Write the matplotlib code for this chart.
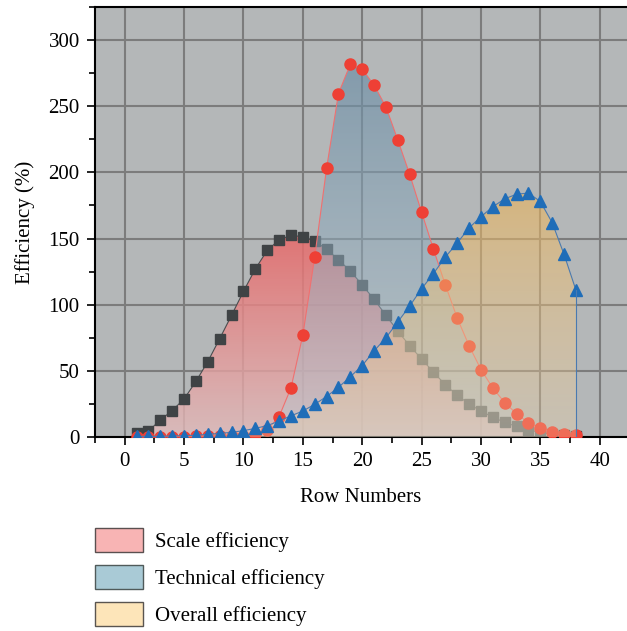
import matplotlib.pyplot as plt
import numpy as np
from matplotlib.patches import Patch
from matplotlib.ticker import MultipleLocator

plt.rcParams['font.family'] = ['Liberation Serif', 'DejaVu Serif']

rows = np.arange(1, 39)

# grey squares, red-filled area
scale_eff = [2.8, 4.5, 12.8, 20, 28.7, 42, 57, 74.3, 92, 110, 127, 141, 149, 152.4,
             151.4, 148, 142, 134, 125.5, 115, 104, 92, 80, 69, 59, 49, 39.5, 31.5,
             25, 19.6, 15, 11, 8, 5.5, 3.3, 2, 1.5, 1]
# red circles, blue-filled area
technical_eff = [0.2, 0.2, 0.2, 0.3, 0.3, 0.4, 0.5, 0.6, 0.8, 1, 2, 5.3, 15.4, 37,
                 77, 136, 203, 259.5, 281.7, 278, 266, 249.5, 224.5, 198.5, 170, 142,
                 115, 90, 69, 51, 37, 26, 17.6, 10.6, 7, 4, 2.3, 1.5]
# blue triangles, yellow-filled area
overall_eff = [0.5, 0.5, 0.5, 0.8, 1, 1.3, 2, 2.7, 3.5, 4.8, 6.5, 8.6, 12, 16, 19.6,
               24.7, 30.6, 37.5, 45.5, 54, 65, 75, 87, 99, 112, 123.5, 136, 146.6,
               158, 166.5, 174, 180, 183.5, 184.4, 178, 162, 138, 111]

legend_labels = ['Scale efficiency', 'Technical efficiency', 'Overall efficiency']


def grad_fill(ax, x, y, c_top, c_bot, a_top, a_bot, z):
    x = np.asarray(x, dtype=float)
    y = np.asarray(y, dtype=float)
    poly = ax.fill_between(x, y, 0, facecolor='none', edgecolor='none')
    n = 256
    t = np.linspace(0, 1, n)[:, None]
    rgb = np.array(c_bot) / 255 * (1 - t) + np.array(c_top) / 255 * t
    img = np.zeros((n, 1, 4))
    img[:, 0, :3] = rgb
    img[:, 0, 3] = a_bot * (1 - t[:, 0]) + a_top * t[:, 0]
    im = ax.imshow(img, extent=[x.min(), x.max(), 0, y.max()], origin='lower',
                   aspect='auto', zorder=z, interpolation='bilinear')
    im.set_clip_path(poly.get_paths()[0], transform=ax.transData)


fig = plt.figure(figsize=(6.27, 6.31), dpi=100)
ax = fig.add_axes([95 / 627, 1 - 437 / 631, 1 - 95 / 627, (437 - 7) / 631])
ax.set_facecolor('#b4b7b8')

grad_fill(ax, rows, scale_eff, (232, 105, 105), (226, 188, 188), 0.85, 0.8, 1)
ax.plot(rows, scale_eff, color='#4a4e50', lw=0.8, marker='s', ms=7,
        mfc='#3f4345', mec='#3f4345', zorder=2)

grad_fill(ax, rows, technical_eff, (105, 140, 165), (185, 205, 215), 0.65, 0.4, 3)
ax.plot(rows, technical_eff, color='#f07070', lw=0.8, marker='o', ms=8,
        mfc='#ee4035', mec='#ee4035', zorder=4)

grad_fill(ax, rows, overall_eff, (235, 180, 90), (245, 215, 170), 0.6, 0.3, 5)
ax.plot(rows, overall_eff, color='#4a7ab0', lw=0.8, marker='^', ms=9,
        mfc='#1f6db8', mec='#1f6db8', zorder=6)
ax.plot([rows[-1], rows[-1]], [overall_eff[-1], 0], color='#4a7ab0', lw=0.8, zorder=6)

ax.set_xlim(-2.5, 42.3)
ax.set_ylim(0, 325)
ax.xaxis.set_major_locator(MultipleLocator(5))
ax.xaxis.set_minor_locator(MultipleLocator(2.5))
ax.yaxis.set_major_locator(MultipleLocator(50))
ax.yaxis.set_minor_locator(MultipleLocator(25))
ax.grid(True, which='major', color='#7c7c7c', lw=1.5, zorder=0)
ax.set_axisbelow(True)

ax.tick_params(which='major', direction='out', length=6, width=1.2, labelsize=15, pad=5)
ax.tick_params(which='minor', direction='out', length=4, width=1.2)
for s in ['left', 'bottom', 'top']:
    ax.spines[s].set_linewidth(1.5)
ax.spines['right'].set_visible(False)

ax.set_xlabel('Row Numbers', fontsize=15, labelpad=12)
ax.set_ylabel('Efficiency (%)', fontsize=15, labelpad=10)

handles = [Patch(facecolor='#f8b4b4', edgecolor='#5a5050', lw=1),
           Patch(facecolor='#a9cad6', edgecolor='#505a5a', lw=1),
           Patch(facecolor='#fde5b9', edgecolor='#5a5550', lw=1)]
fig.legend(handles, legend_labels, loc='upper left',
           bbox_to_anchor=(95 / 627, 1 - 528 / 631), frameon=False, fontsize=15,
           handlelength=2.3, handleheight=1.4, labelspacing=0.62,
           handletextpad=0.6, borderpad=0, borderaxespad=0)

fig.savefig('out.png', dpi=100)
